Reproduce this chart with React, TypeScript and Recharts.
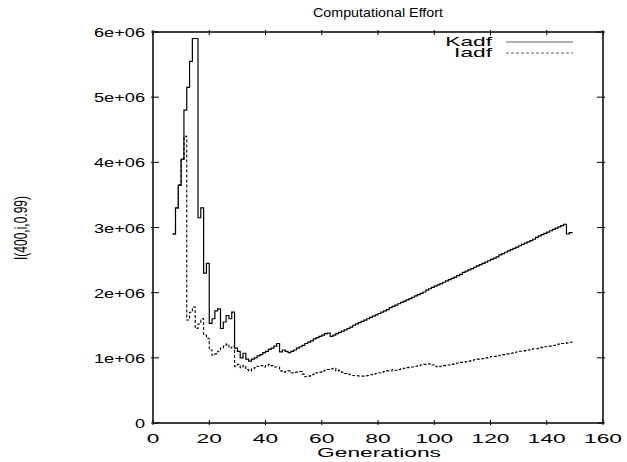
import { LineChart, Line, XAxis, YAxis } from "recharts"

// generations 7..149, values in millions
const firstGen = 7

const kadf = [
  2.9, 3.3, 3.65, 4.05, 4.8, 5.15, 5.55, 5.9, 5.9, 3.15,
  3.3, 2.3, 2.45, 1.53, 1.6, 1.72, 1.75, 1.45, 1.55, 1.65,
  1.6, 1.7, 1.15, 1.1, 1.0, 1.07, 0.98, 0.95, 0.98, 1.0,
  1.03, 1.05, 1.08, 1.1, 1.13, 1.15, 1.18, 1.22, 1.09, 1.12,
  1.1, 1.08, 1.1, 1.12, 1.15, 1.17, 1.19, 1.22, 1.24, 1.26,
  1.29, 1.31, 1.33, 1.35, 1.37, 1.38, 1.33, 1.35, 1.37, 1.39,
  1.41, 1.43, 1.45, 1.47, 1.5, 1.52, 1.54, 1.56, 1.58, 1.6,
  1.62, 1.64, 1.66, 1.68, 1.7, 1.72, 1.74, 1.77, 1.79, 1.81,
  1.83, 1.85, 1.87, 1.89, 1.91, 1.93, 1.95, 1.97, 1.99, 2.01,
  2.04, 2.06, 2.08, 2.1, 2.12, 2.14, 2.16, 2.18, 2.2, 2.22,
  2.24, 2.26, 2.28, 2.31, 2.33, 2.35, 2.37, 2.39, 2.41, 2.43,
  2.45, 2.47, 2.49, 2.51, 2.53, 2.55, 2.58, 2.6, 2.62, 2.64,
  2.66, 2.68, 2.7, 2.72, 2.74, 2.76, 2.78, 2.8, 2.82, 2.85,
  2.87, 2.89, 2.91, 2.93, 2.95, 2.97, 2.99, 3.01, 3.03, 3.05,
  2.9, 2.92, 2.93,
]

const iadf = [
  2.9, 3.3, 3.65, 4.05, 4.4, 1.58, 1.7, 1.78, 1.45, 1.52,
  1.6, 1.35, 1.3, 1.12, 1.04, 1.06, 1.1, 1.15, 1.18, 1.21,
  1.15, 1.18, 0.87, 0.9, 0.85, 0.88, 0.82, 0.8, 0.83, 0.85,
  0.87, 0.88, 0.86, 0.88, 0.9, 0.88, 0.86, 0.86, 0.8, 0.78,
  0.79, 0.8, 0.77, 0.78, 0.78, 0.79, 0.75, 0.71, 0.72, 0.74,
  0.75, 0.77, 0.78, 0.8, 0.81, 0.82, 0.83, 0.84, 0.8, 0.81,
  0.78, 0.76, 0.75, 0.74, 0.73, 0.73, 0.72, 0.72, 0.72, 0.73,
  0.74, 0.75, 0.76, 0.77, 0.78, 0.79, 0.8, 0.8, 0.82, 0.81,
  0.82, 0.83, 0.84, 0.85, 0.86, 0.86, 0.87, 0.88, 0.89, 0.9,
  0.9, 0.91, 0.89, 0.87, 0.86, 0.87, 0.88, 0.89, 0.89, 0.9,
  0.91, 0.92, 0.93, 0.93, 0.94, 0.95, 0.96, 0.97, 0.98, 0.98,
  0.99, 1.0, 1.01, 1.02, 1.02, 1.03, 1.04, 1.05, 1.06, 1.06,
  1.07, 1.08, 1.09, 1.1, 1.1, 1.11, 1.12, 1.13, 1.14, 1.14,
  1.15, 1.16, 1.17, 1.18, 1.18, 1.19, 1.2, 1.21, 1.22, 1.22,
  1.23, 1.24, 1.25,
]

const xTicks = [0, 20, 40, 60, 80, 100, 120, 140, 160]
const yTicks = [0, 1e6, 2e6, 3e6, 4e6, 5e6, 6e6]

const data = kadf.map((k, i) => ({
  gen: firstGen + i,
  kadf: k * 1e6,
  iadf: iadf[i] * 1e6,
}))

const FONT = "'Liberation Sans', Arial, sans-serif"
const SX = 1.75

const fmtY = (v: number) => (v === 0 ? "0" : `${v / 1e6}e+06`)

const BottomTick = ({ x, y, payload }: any) => (
  <g>
    <line x1={x} y1={y} x2={x} y2={y - 5} stroke="#000" />
    <text
      transform={`translate(${x},${y + 18}) scale(${SX},1)`}
      textAnchor="middle"
      fontSize={13}
      fontFamily={FONT}
      fill="#000"
    >
      {payload.value}
    </text>
  </g>
)

const TopTick = ({ x, y }: any) => (
  <line x1={x} y1={y} x2={x} y2={y + 5} stroke="#000" />
)

const LeftTick = ({ x, y, payload }: any) => (
  <g>
    <line x1={x} y1={y} x2={x + 8} y2={y} stroke="#000" />
    <text
      transform={`translate(${x - 6},${y + 5}) scale(1.4,1)`}
      textAnchor="end"
      fontSize={13}
      fontFamily={FONT}
      fill="#000"
    >
      {fmtY(payload.value)}
    </text>
  </g>
)

const RightTick = ({ x, y }: any) => (
  <line x1={x} y1={y} x2={x - 8} y2={y} stroke="#000" />
)

const frame = { stroke: "#000", strokeWidth: 1.5 }

export default function App() {
  return (
    <div style={{ position: "absolute", left: 0, top: 0, width: 627, height: 462, background: "#fff" }}>
      <LineChart
        width={627}
        height={462}
        data={data}
        margin={{ top: 31, right: 23, bottom: 0, left: 0 }}
      >
        <XAxis
          xAxisId="b"
          dataKey="gen"
          type="number"
          domain={[0, 160]}
          ticks={xTicks}
          height={39}
          tickSize={0}
          tickLine={false}
          tick={<BottomTick />}
          axisLine={frame}
          allowDataOverflow
          interval={0}
        />
        <XAxis
          xAxisId="t"
          orientation="top"
          dataKey="gen"
          type="number"
          domain={[0, 160]}
          ticks={xTicks}
          height={1}
          tickSize={0}
          tickLine={false}
          tick={<TopTick />}
          axisLine={frame}
          allowDataOverflow
          interval={0}
        />
        <YAxis
          yAxisId="l"
          type="number"
          domain={[0, 6e6]}
          ticks={yTicks}
          width={153}
          tickSize={0}
          tickLine={false}
          tick={<LeftTick />}
          axisLine={frame}
          allowDataOverflow
          interval={0}
        />
        <YAxis
          yAxisId="r"
          orientation="right"
          type="number"
          domain={[0, 6e6]}
          ticks={yTicks}
          width={1}
          tickSize={0}
          tickLine={false}
          tick={<RightTick />}
          axisLine={frame}
          allowDataOverflow
          interval={0}
        />
        {/* invisible copy so the mirrored top/right axes get drawn */}
        <Line
          xAxisId="t"
          yAxisId="r"
          type="stepAfter"
          dataKey="kadf"
          stroke="none"
          dot={false}
          activeDot={false}
          isAnimationActive={false}
        />
        <Line
          xAxisId="b"
          yAxisId="l"
          type="stepAfter"
          dataKey="iadf"
          stroke="#000"
          strokeWidth={1.1}
          strokeDasharray="3 2"
          dot={false}
          isAnimationActive={false}
        />
        <Line
          xAxisId="b"
          yAxisId="l"
          type="stepAfter"
          dataKey="kadf"
          stroke="#000"
          strokeWidth={1.2}
          dot={false}
          isAnimationActive={false}
        />
      </LineChart>

      {/* title, axis titles, legend */}
      <svg
        width={627}
        height={462}
        style={{ position: "absolute", left: 0, top: 0, pointerEvents: "none" }}
        fontFamily={FONT}
        fill="#000"
      >
        <text transform="translate(378,17) scale(1.1,1)" textAnchor="middle" fontSize={13}>
          Computational Effort
        </text>
        <text transform={`translate(379,457) scale(${SX},1)`} textAnchor="middle" fontSize={13}>
          Generations
        </text>
        <text transform="translate(27,228) rotate(-90) scale(1,1.5)" textAnchor="middle" fontSize={12}>
          I(400,i,0.99)
        </text>
        <text transform={`translate(492,46) scale(${SX},1)`} textAnchor="end" fontSize={13}>
          Kadf
        </text>
        <line x1={506} y1={42} x2={573} y2={42} stroke="#666" strokeWidth={1.2} />
        <text transform={`translate(492,57) scale(${SX},1)`} textAnchor="end" fontSize={13}>
          Iadf
        </text>
        <line x1={506} y1={53} x2={573} y2={53} stroke="#666" strokeWidth={1.1} strokeDasharray="3 2" />
      </svg>
    </div>
  )
}
